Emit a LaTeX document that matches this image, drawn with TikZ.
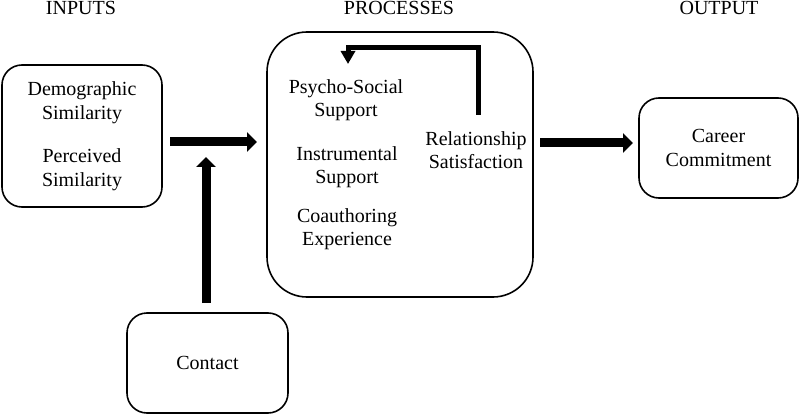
\documentclass[tikz,border=0pt]{standalone}
\usepackage{fontspec}
\setmainfont{Liberation Serif}
\usetikzlibrary{arrows.meta}
\begin{document}
\begin{tikzpicture}[x=1pt,y=-1pt,
  txt/.style={font=\fontsize{20}{23}\selectfont, align=center, inner sep=0pt},
  hdr/.style={font=\fontsize{20}{23}\selectfont, anchor=base, inner sep=0pt},
  box/.style={draw, line width=1.6pt, rounded corners=#1, inner sep=0pt,
              font=\fontsize{20}{23.5}\selectfont, align=center},
  bigarrow/.style={line width=9pt, -{Triangle[length=10pt,width=19pt]}},
  fbarrow/.style={line width=5pt, -{Triangle[length=13pt,width=14pt]}}
]
\useasboundingbox (0,0) rectangle (800,414);

% headers
\node[hdr] (hin) at (81,15) {INPUTS};
\node[hdr] (hpr) at (399,15) {PROCESSES};
\node[hdr] (hout) at (719,15) {OUTPUT};

% boxes
\node[box=20pt, minimum width=160pt, minimum height=142pt] (inputs) at (82,136)
  {Demographic\\Similarity\\[20pt]Perceived\\Similarity};
\node[box=40pt, minimum width=266pt, minimum height=265pt] (proc) at (400,164.5) {};
\node[box=20pt, minimum width=159pt, minimum height=100pt] (career) at (718.5,148)
  {Career\\Commitment};
\node[box=20pt, minimum width=161pt, minimum height=100pt] (contact) at (207.5,363)
  {Contact};

% texts inside processes
\node[txt] (psycho) at (346,100) {Psycho-Social\\Support};
\node[txt] (instr) at (347,167) {Instrumental\\Support};
\node[txt] (coauth) at (347,229) {Coauthoring\\Experience};
\node[txt] (rel) at (476,150) {Relationship\\Satisfaction};

% connector endpoints
\coordinate (a1s) at (170,142);
\coordinate (a1e) at (257,142);
\coordinate (a2s) at (206,303);
\coordinate (a2e) at (206,157);
\coordinate (a3s) at (540,143);
\coordinate (a3e) at (633,143);
\coordinate (fbs) at (478,115);
\coordinate (fbc1) at (478,48);
\coordinate (fbc2) at (348,48);
\coordinate (fbe) at (348,64);

\draw[bigarrow] (a1s) -- (a1e);
\draw[bigarrow] (a2s) -- (a2e);
\draw[bigarrow] (a3s) -- (a3e);
\draw[fbarrow] (fbs) -- (fbc1) -- (fbc2) -- (fbe);
\end{tikzpicture}
\end{document}
